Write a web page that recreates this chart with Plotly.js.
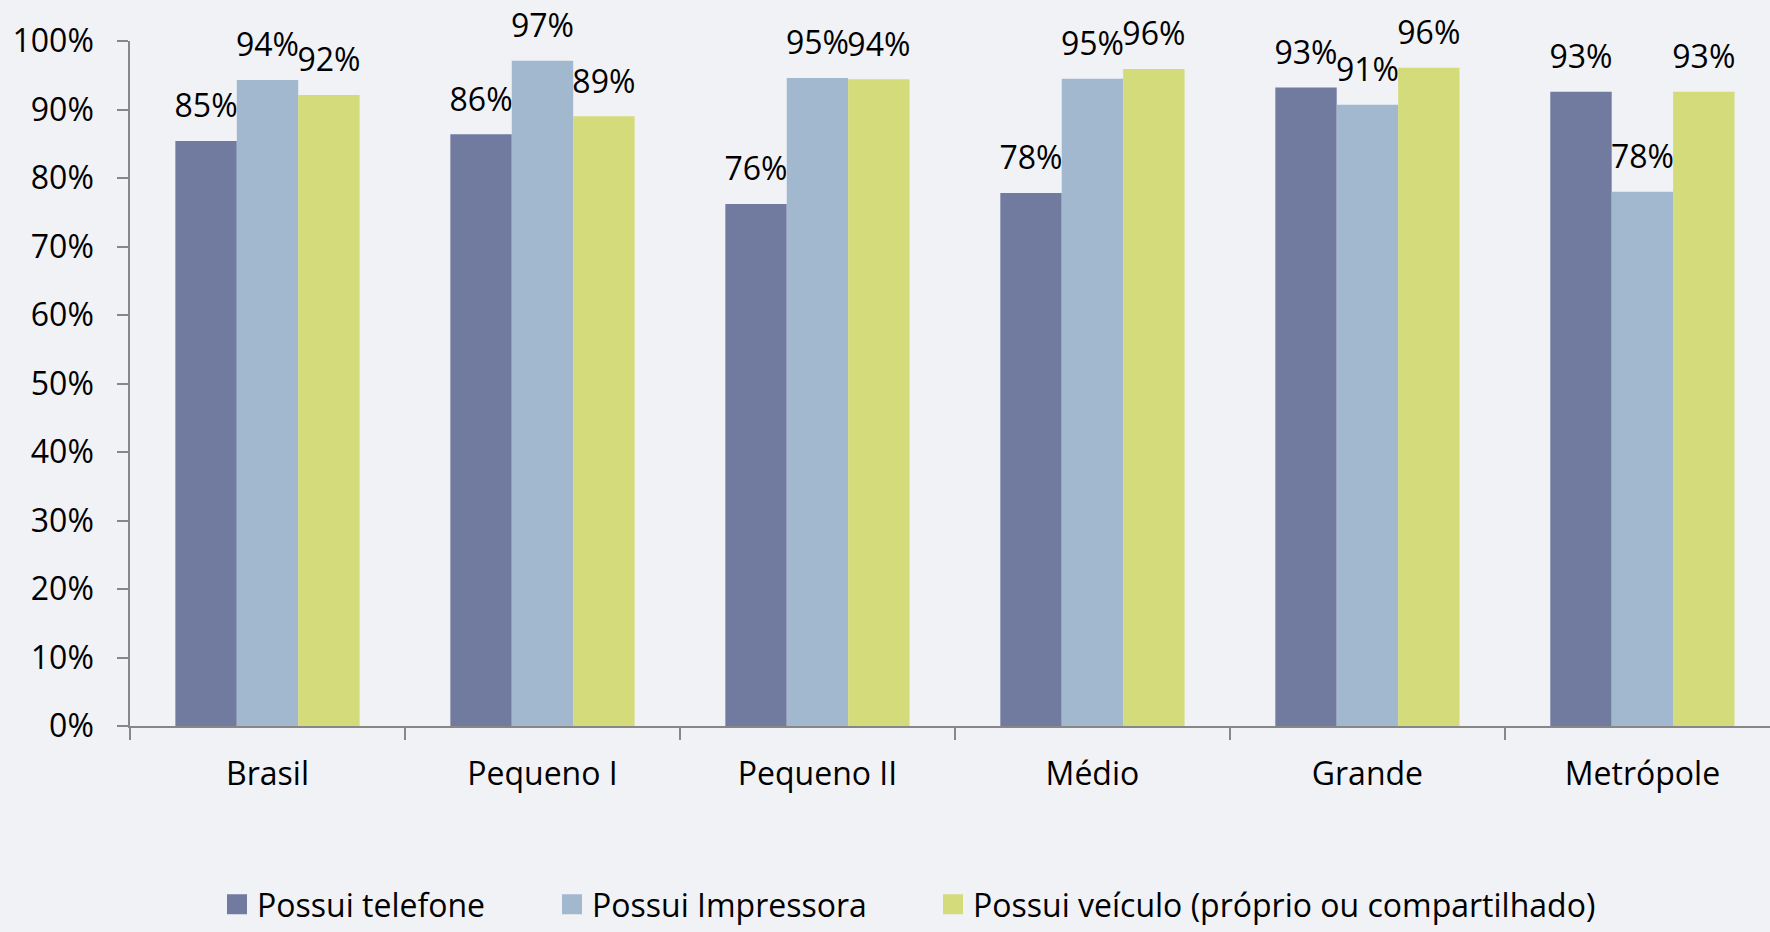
<!DOCTYPE html>
<html>
<head>
<meta charset="utf-8">
<script src="https://cdn.plot.ly/plotly-3.0.1.min.js"></script>
<style>
  html, body { margin: 0; padding: 0; background: #F1F2F6; }
  #chart { width: 1770px; height: 932px; }
</style>
</head>
<body>
<div id="chart"></div>
<script>
// ---- data ----
const categories = ["Brasil", "Pequeno I", "Pequeno II", "Médio", "Grande", "Metrópole"];
const seriesNames = ["Possui telefone", "Possui Impressora", "Possui veículo (próprio ou compartilhado)"];
const telefone   = [85.4, 86.4, 76.2, 77.8, 93.2, 92.6];
const impressora = [94.3, 97.1, 94.6, 94.5, 90.7, 78.0];
const veiculo    = [92.1, 89.0, 94.4, 95.9, 96.1, 92.6];
const yTickVals  = [0, 10, 20, 30, 40, 50, 60, 70, 80, 90, 100];
const yTickText  = ["0%", "10%", "20%", "30%", "40%", "50%", "60%", "70%", "80%", "90%", "100%"];

// ---- style ----
const colors = ["#717BA0", "#A2B8CF", "#D4DB7B"];
const FONT = "Open Sans, sans-serif";
const labelGap = 1.7;                 // space between bar top and its label, in axis units
const legendWidths = [290, 336, null]; // legend entry text widths (px)

const seriesValues = [telefone, impressora, veiculo];
const traces = [];

seriesValues.forEach((vals, i) => {
  traces.push({
    type: "bar",
    name: seriesNames[i],
    x: categories,
    y: vals,
    offsetgroup: "g" + i,
    marker: { color: colors[i], line: { width: 0 } },
    showlegend: false,
    hoverinfo: "x+y+name"
  });
});

// label carriers: transparent bars sitting on top of each bar, carrying the value text outside
seriesValues.forEach((vals, i) => {
  traces.push({
    type: "bar",
    x: categories,
    y: vals.map(() => labelGap),
    base: vals,
    offsetgroup: "g" + i,
    marker: { color: "rgba(0,0,0,0)", line: { width: 0 } },
    text: vals.map(v => Math.round(v) + "%"),
    textposition: "outside",
    constraintext: "none",
    cliponaxis: false,
    textfont: { family: FONT, size: 32, color: "#000000" },
    showlegend: false,
    hoverinfo: "skip"
  });
});

// legend entries
seriesNames.forEach((n, i) => {
  const t = {
    type: "scatter",
    mode: "markers",
    name: n,
    x: [null],
    y: [null],
    marker: { symbol: "square", size: 16, color: colors[i], line: { width: 4, color: colors[i] } },
    showlegend: true,
    hoverinfo: "skip"
  };
  if (legendWidths[i]) t.legendwidth = legendWidths[i];
  traces.push(t);
});

const layout = {
  width: 1770,
  height: 932,
  paper_bgcolor: "#F1F2F6",
  plot_bgcolor: "rgba(0,0,0,0)",
  font: { family: FONT, size: 32, color: "#000000" },
  margin: { l: 130, r: 0, t: 41, b: 206, pad: 0 },
  barmode: "group",
  bargap: 0.33,
  bargroupgap: 0,
  showlegend: true,
  xaxis: {
    type: "category",
    range: [-0.5, 5.464],
    showgrid: false,
    zeroline: false,
    showline: true,
    linecolor: "#878787",
    linewidth: 2,
    ticks: "outside",
    tickson: "boundaries",
    ticklen: 12,
    tickwidth: 1.5,
    tickcolor: "#878787",
    ticklabelstandoff: 19,
    tickfont: { family: FONT, size: 32, color: "#000000" },
    fixedrange: true
  },
  yaxis: {
    range: [0, 100],
    tickvals: yTickVals,
    ticktext: yTickText,
    showgrid: false,
    zeroline: false,
    showline: true,
    linecolor: "#878787",
    linewidth: 1.5,
    ticks: "outside",
    ticklen: 11,
    tickwidth: 1.5,
    tickcolor: "#878787",
    ticklabelstandoff: 17,
    tickfont: { family: FONT, size: 32, color: "#000000" },
    fixedrange: true
  },
  legend: {
    orientation: "h",
    xref: "container",
    yref: "container",
    x: 217 / 1770,
    xanchor: "left",
    y: 0,
    yanchor: "bottom",
    font: { family: FONT, size: 32, color: "#000000" },
    bgcolor: "rgba(0,0,0,0)",
    borderwidth: 0,
    itemwidth: 30
  }
};

Plotly.newPlot("chart", traces, layout, { displayModeBar: false, staticPlot: false });
</script>
</body>
</html>
